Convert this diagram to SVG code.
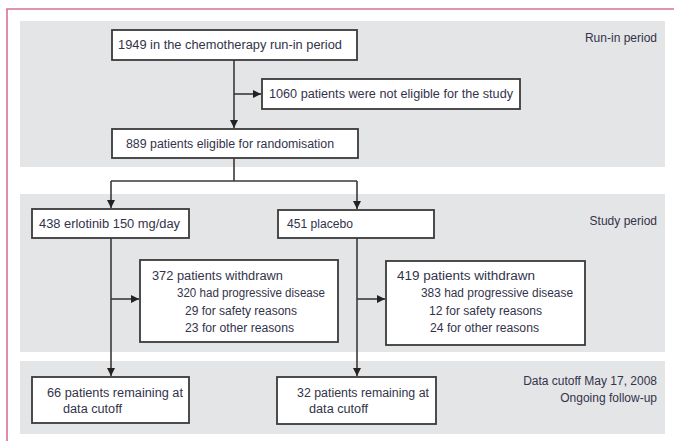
<svg xmlns="http://www.w3.org/2000/svg" width="674" height="441" viewBox="0 0 674 441">
<defs>
<style>
.band{fill:#e4e5e7}
.box{fill:#ffffff;stroke:#3a3a3a;stroke-width:1.8}
.t{font-family:"Liberation Sans",Arial,sans-serif;font-size:12px;fill:#33334a}
.lbl{font-family:"Liberation Sans",Arial,sans-serif;font-size:12px;fill:#33334a;text-anchor:end}
.c{fill:none;stroke:#3a3a3a;stroke-width:1.6}
</style>
<marker id="ah" viewBox="0 0 10 10" refX="10" refY="5" markerWidth="8" markerHeight="8" markerUnits="userSpaceOnUse" orient="auto">
<path d="M0,0 L10,5 L0,10 Z" fill="#222222"/>
</marker>
</defs>
<rect width="674" height="441" fill="#ffffff"/>
<path d="M7,441 V9 H674" fill="none" stroke="#d9728c" stroke-width="1.6"/>
<rect class="band" x="20" y="21" width="645" height="146"/>
<rect class="band" x="20" y="194" width="645" height="158"/>
<rect class="band" x="20" y="361" width="645" height="73"/>
<text class="lbl" x="657" y="42">Run-in period</text>
<text class="lbl" x="657" y="225">Study period</text>
<text class="lbl" x="657" y="385">Data cutoff May 17, 2008</text>
<text class="lbl" x="657" y="402">Ongoing follow-up</text>
<g id="connectors">
<path class="c" d="M234,60 V128" marker-end="url(#ah)"/>
<path class="c" d="M234,94 H261" marker-end="url(#ah)"/>
<path class="c" d="M234,158 V181 M111,181 H357"/>
<path class="c" d="M111,181 V208" marker-end="url(#ah)"/>
<path class="c" d="M357,181 V209" marker-end="url(#ah)"/>
<path class="c" d="M111,238 V376" marker-end="url(#ah)"/>
<path class="c" d="M111,299 H139" marker-end="url(#ah)"/>
<path class="c" d="M357,238 V376" marker-end="url(#ah)"/>
<path class="c" d="M357,299 H385" marker-end="url(#ah)"/>
</g>
<g id="n1"><rect class="box" x="112" y="30" width="245" height="30"/><text class="t" x="118" y="49" textLength="224" lengthAdjust="spacingAndGlyphs">1949 in the chemotherapy run-in period</text></g>
<g id="n2"><rect class="box" x="262" y="79" width="258" height="30"/><text class="t" x="269" y="98" textLength="244" lengthAdjust="spacingAndGlyphs">1060 patients were not eligible for the study</text></g>
<g id="n3"><rect class="box" x="112" y="129" width="246" height="29"/><text class="t" x="126" y="148" textLength="208" lengthAdjust="spacingAndGlyphs">889 patients eligible for randomisation</text></g>
<g id="n4"><rect class="box" x="32" y="209" width="157" height="29"/><text class="t" x="39" y="228" textLength="141" lengthAdjust="spacingAndGlyphs">438 erlotinib 150 mg/day</text></g>
<g id="n5"><rect class="box" x="278" y="210" width="156" height="28"/><text class="t" x="287" y="228" textLength="66" lengthAdjust="spacingAndGlyphs">451 placebo</text></g>
<g id="n6"><rect class="box" x="140" y="260" width="198" height="82"/>
<text class="t" x="152" y="280" textLength="131" lengthAdjust="spacingAndGlyphs">372 patients withdrawn</text>
<text class="t" x="177" y="297" textLength="148" lengthAdjust="spacingAndGlyphs">320 had progressive disease</text>
<text class="t" x="185" y="315" textLength="112" lengthAdjust="spacingAndGlyphs">29 for safety reasons</text>
<text class="t" x="185" y="332" textLength="109" lengthAdjust="spacingAndGlyphs">23 for other reasons</text></g>
<g id="n7"><rect class="box" x="386" y="261" width="199" height="84"/>
<text class="t" x="397" y="280" textLength="138" lengthAdjust="spacingAndGlyphs">419 patients withdrawn</text>
<text class="t" x="421" y="297" textLength="152" lengthAdjust="spacingAndGlyphs">383 had progressive disease</text>
<text class="t" x="429" y="315" textLength="113" lengthAdjust="spacingAndGlyphs">12 for safety reasons</text>
<text class="t" x="430" y="332" textLength="109" lengthAdjust="spacingAndGlyphs">24 for other reasons</text></g>
<g id="n8"><rect class="box" x="32" y="377" width="157" height="46"/>
<text class="t" x="47" y="397" textLength="136" lengthAdjust="spacingAndGlyphs">66 patients remaining at</text>
<text class="t" x="63" y="413" textLength="59" lengthAdjust="spacingAndGlyphs">data cutoff</text></g>
<g id="n9"><rect class="box" x="277" y="377" width="159" height="47"/>
<text class="t" x="297" y="397" textLength="132" lengthAdjust="spacingAndGlyphs">32 patients remaining at</text>
<text class="t" x="309" y="413" textLength="59" lengthAdjust="spacingAndGlyphs">data cutoff</text></g>
</svg>
